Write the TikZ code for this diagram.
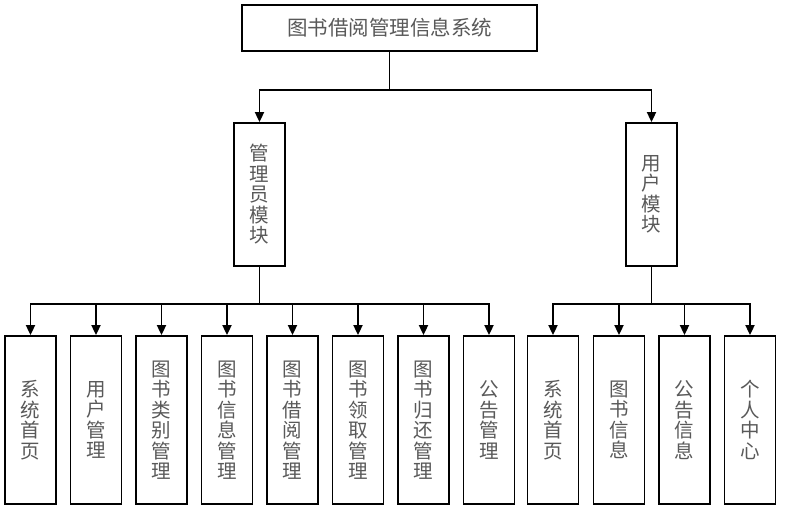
\documentclass[tikz,border=0pt]{standalone}
\usepackage{fontspec}
\newfontfamily\cjk{Noto Sans CJK SC}
\usetikzlibrary{arrows.meta}
\begin{document}
\begin{tikzpicture}[x=1pt,y=-1pt,
  box/.style={draw=black,line width=1.8pt,fill=white,inner sep=0pt,align=center,
    text=black!65,font={\fontsize{19.5}{20.5}\selectfont\cjk}},
  vbox/.style={box,minimum width=51pt,minimum height=168pt},
  mbox/.style={box,minimum width=51pt,minimum height=143pt},
  arr/.style={line width=1.8pt,-{Triangle[width=9pt,length=10pt]}}]
\useasboundingbox (0,0) rectangle (785,511);
\node[box,minimum width=295pt,minimum height=46pt,font={\fontsize{20.5}{22}\selectfont\cjk}] (top) at (389.5,28) {图书借阅管理信息系统};
\node[mbox] (admin) at (259.5,194.5) {管\\理\\员\\模\\块};
\node[mbox] (user) at (651.5,194.5) {用\\户\\模\\块};
\coordinate (j0) at (0,90);
\coordinate (j1) at (0,304);
\node[vbox] (a1) at (30.5,420) {系\\统\\首\\页};
\node[vbox] (a2) at (96,420) {用\\户\\管\\理};
\node[vbox] (a3) at (161.5,420) {图\\书\\类\\别\\管\\理};
\node[vbox] (a4) at (227,420) {图\\书\\信\\息\\管\\理};
\node[vbox] (a5) at (292.5,420) {图\\书\\借\\阅\\管\\理};
\node[vbox] (a6) at (358,420) {图\\书\\领\\取\\管\\理};
\node[vbox] (a7) at (423.5,420) {图\\书\\归\\还\\管\\理};
\node[vbox] (a8) at (489,420) {公\\告\\管\\理};
\node[vbox] (b1) at (553,420) {系\\统\\首\\页};
\node[vbox] (b2) at (619,420) {图\\书\\信\\息};
\node[vbox] (b3) at (684.5,420) {公\\告\\信\\息};
\node[vbox] (b4) at (750,420) {个\\人\\中\\心};
\foreach \t in {admin,user}
  \draw[arr] (top.south) -- (top.south |- j0) -| (\t.north);
\foreach \t in {a1,a2,a3,a4,a5,a6,a7,a8}
  \draw[arr] (admin.south) -- (admin.south |- j1) -| (\t.north);
\foreach \t in {b1,b2,b3,b4}
  \draw[arr] (user.south) -- (user.south |- j1) -| (\t.north);
\end{tikzpicture}
\end{document}
